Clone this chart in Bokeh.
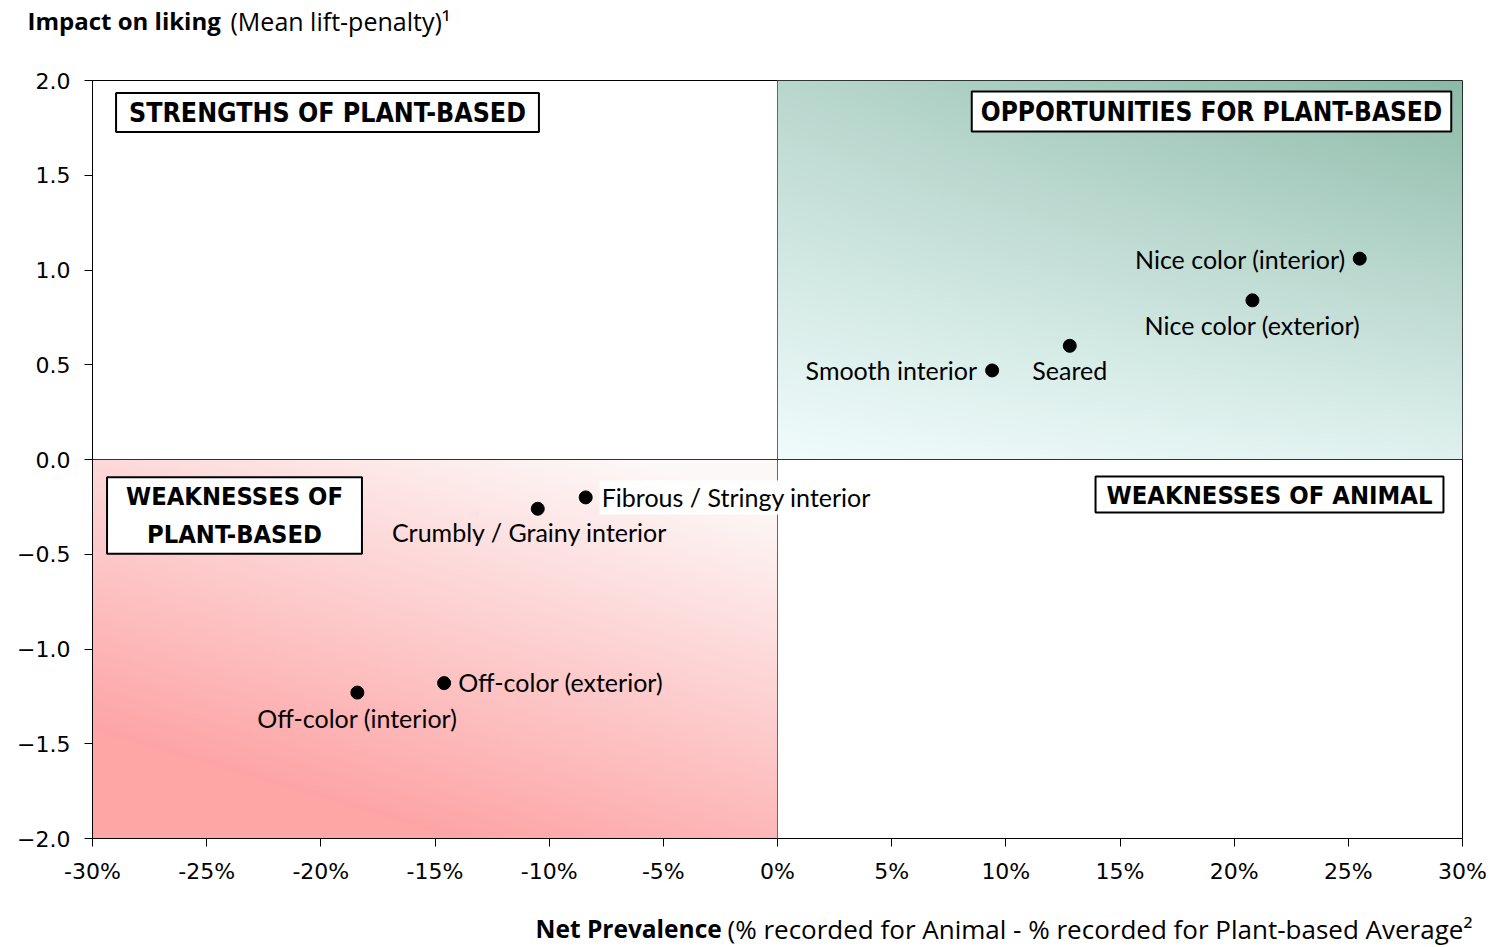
import numpy as np
from bokeh.plotting import figure
from bokeh.models import Label, Span, FixedTicker
from bokeh.layouts import column
from bokeh.embed import file_html
from bokeh.resources import INLINE

# ---------------- data ----------------
attributes = ["Nice color (interior)", "Nice color (exterior)", "Seared", "Smooth interior",
              "Fibrous / Stringy interior", "Crumbly / Grainy interior",
              "Off-color (exterior)", "Off-color (interior)"]
net_prevalence = [25.5, 20.8, 12.8, 9.4, -8.4, -10.5, -14.6, -18.4]   # percent
impact_on_liking = [1.06, 0.84, 0.60, 0.47, -0.20, -0.26, -1.18, -1.23]

x_ticks = [-30, -25, -20, -15, -10, -5, 0, 5, 10, 15, 20, 25, 30]
x_tick_labels = ["-30%", "-25%", "-20%", "-15%", "-10%", "-5%", "0%",
                 "5%", "10%", "15%", "20%", "25%", "30%"]
y_ticks = [-2.0, -1.5, -1.0, -0.5, 0.0, 0.5, 1.0, 1.5, 2.0]
y_tick_labels = ["\u22122.0", "\u22121.5", "\u22121.0", "\u22120.5", "0.0", "0.5", "1.0", "1.5", "2.0"]

quadrant_names = ["STRENGTHS OF PLANT-BASED", "OPPORTUNITIES FOR PLANT-BASED",
                  "WEAKNESSES OF\nPLANT-BASED", "WEAKNESSES OF ANIMAL"]

y_title_bold = "Impact on liking"
y_title_rest = "(Mean lift-penalty)\u00b9"
x_title_bold = "Net Prevalence"
x_title_rest = "(% recorded for Animal - % recorded for Plant-based Average\u00b2"

W = 1507
TOP_H, BOT_H = 55, 40
MAIN_H = 947 - TOP_H - BOT_H
TITLE_FONT = "Open Sans"


def strip(height):
    s = figure(width=W, height=height, x_range=(0, W), y_range=(0, height),
               output_backend="svg", toolbar_location=None,
               x_axis_location=None, y_axis_location=None,
               min_border=0, min_border_left=0, min_border_right=0,
               min_border_top=0, min_border_bottom=0)
    s.grid.visible = False
    s.outline_line_color = None
    s.background_fill_color = "white"
    s.border_fill_color = "white"
    return s

# ---------------- top strip (y-axis title) ----------------
top = strip(TOP_H)
top.add_layout(Label(x=27, y=TOP_H - 20, text=y_title_bold, text_align="left",
                     text_baseline="middle", text_font=TITLE_FONT, text_font_style="bold",
                     text_font_size="24px", text_color="black"))
top.add_layout(Label(x=230, y=TOP_H - 20, text=y_title_rest, text_align="left",
                     text_baseline="middle", text_font=TITLE_FONT,
                     text_font_size="25px", text_color="black"))

# ---------------- bottom strip (x-axis title) ----------------
bot = strip(BOT_H)
bot.add_layout(Label(x=535, y=BOT_H - 21, text=x_title_bold, text_align="left",
                     text_baseline="middle", text_font=TITLE_FONT, text_font_style="bold",
                     text_font_size="24.5px", text_color="black"))
bot.add_layout(Label(x=727, y=BOT_H - 21, text=x_title_rest, text_align="left",
                     text_baseline="middle", text_font=TITLE_FONT,
                     text_font_size="26px", text_color="black"))

# ---------------- main figure ----------------
XMIN, XMAX, YMIN, YMAX = -30, 30, -2, 2
p = figure(width=W, height=MAIN_H, x_range=(XMIN, XMAX), y_range=(YMIN, YMAX),
           output_backend="svg", toolbar_location=None,
           min_border_left=92, min_border_right=45, min_border_top=80 - TOP_H,
           min_border_bottom=MAIN_H + TOP_H - 838)
p.grid.visible = False
p.background_fill_color = "white"
p.border_fill_color = "white"
p.outline_line_color = "black"
p.outline_line_width = 1

for f in (top, p, bot):
    try:
        f.frame_align = False
    except Exception:
        pass

TICK_FONT = "DejaVu Sans"
for ax in (p.xaxis[0], p.yaxis[0]):
    ax.axis_line_color = "black"
    ax.major_tick_line_color = "black"
    ax.major_tick_out = 8
    ax.major_tick_in = 0
    ax.minor_tick_line_color = None
    ax.major_label_text_font = TICK_FONT
    ax.major_label_text_font_size = "22px"
    ax.major_label_text_color = "black"

p.xaxis.ticker = FixedTicker(ticks=x_ticks)
p.xaxis.major_label_overrides = {t: l for t, l in zip(x_ticks, x_tick_labels)}
p.xaxis.major_label_standoff = 12
p.yaxis.ticker = FixedTicker(ticks=y_ticks)
p.yaxis.major_label_overrides = {t: l for t, l in zip(y_ticks, y_tick_labels)}
p.yaxis.major_label_standoff = 14

# ---------------- gradient quadrants ----------------
def gradient(c0, c1, n, kind):
    u = np.linspace(0, 1, n)[None, :]
    v = np.linspace(0, 1, n)[:, None]   # row 0 = bottom
    if kind == "green":
        t = np.clip(0.16 * u + 0.56 * v + 0.28 * u * v, 0, 1)
    else:
        U, V = 1 - u, 1 - v
        t = np.clip(1.35 * (0.35 * U + 0.65 * V) - 0.1, 0, 1)
    img = np.empty((n, n), dtype=np.uint32)
    view = img.view(dtype=np.uint8).reshape((n, n, 4))
    for k in range(3):
        view[:, :, k] = (c0[k] + (c1[k] - c0[k]) * t).astype(np.uint8)
    view[:, :, 3] = 255
    return img

green = gradient((240, 252, 252), (140, 186, 168), 200, "green")
red = gradient((253, 248, 248), (254, 165, 166), 200, "red")
p.image_rgba(image=[green], x=0, y=0, dw=XMAX, dh=YMAX)
p.image_rgba(image=[red], x=XMIN, y=YMIN, dw=-XMIN, dh=-YMIN)

# quadrant dividers
p.add_layout(Span(location=0, dimension="height", line_color="#666666", line_width=1))
p.add_layout(Span(location=0, dimension="width", line_color="#333333", line_width=1))

# ---------------- points ----------------
p.scatter(net_prevalence, impact_on_liking, size=13, color="black")

PT_FONT = "Lato"
# (align, x_offset, y_offset, white background)
label_style = [("right", -14, 0, False), ("center", 0, -25, False), ("center", 0, -24, False),
               ("right", -15, 0, False), ("left", 14, 0, True), ("center", -8, -23, False),
               ("left", 14, 1, False), ("center", 0, -25, False)]
for name, xv, yv, (al, xo, yo, bg) in zip(attributes, net_prevalence, impact_on_liking, label_style):
    p.add_layout(Label(x=xv, y=yv, text=name, x_offset=xo, y_offset=yo,
                       text_align=al, text_baseline="middle",
                       text_font=PT_FONT, text_font_size="25px", text_color="black",
                       background_fill_color="white" if bg else None,
                       padding=2 if bg else 0))

# ---------------- quadrant titles ----------------
BOX_FONT = "DejaVu Sans Condensed"
# anchor x, anchor y, x_offset, y_offset, font size, pad l/r, pad t/b, line height
quad_style = [(XMIN, YMAX, 235, -32, "26.5px", 13, 4, 1.2),
              (XMAX, YMAX, -251, -31, "26px", 9, 5, 1.2),
              (XMIN, 0, 142, -56, "25.3px", 19, 5, 1.3),
              (XMAX, 0, -193, -35, "25.4px", 11, 3, 1.2)]
for name, (qx, qy, xo, yo, fs, plr, ptb, lh) in zip(quadrant_names, quad_style):
    p.add_layout(Label(x=qx, y=qy, x_offset=xo, y_offset=yo, text=name,
                       text_align="center", text_baseline="middle",
                       text_font=BOX_FONT, text_font_style="bold", text_font_size=fs,
                       text_line_height=lh, text_color="black",
                       background_fill_color="white", border_line_color="black",
                       border_line_width=2,
                       padding=dict(left=plr, right=plr, top=ptb, bottom=ptb)))

layout = column(top, p, bot, spacing=0)
open("out.html", "w").write(file_html(layout, INLINE))
